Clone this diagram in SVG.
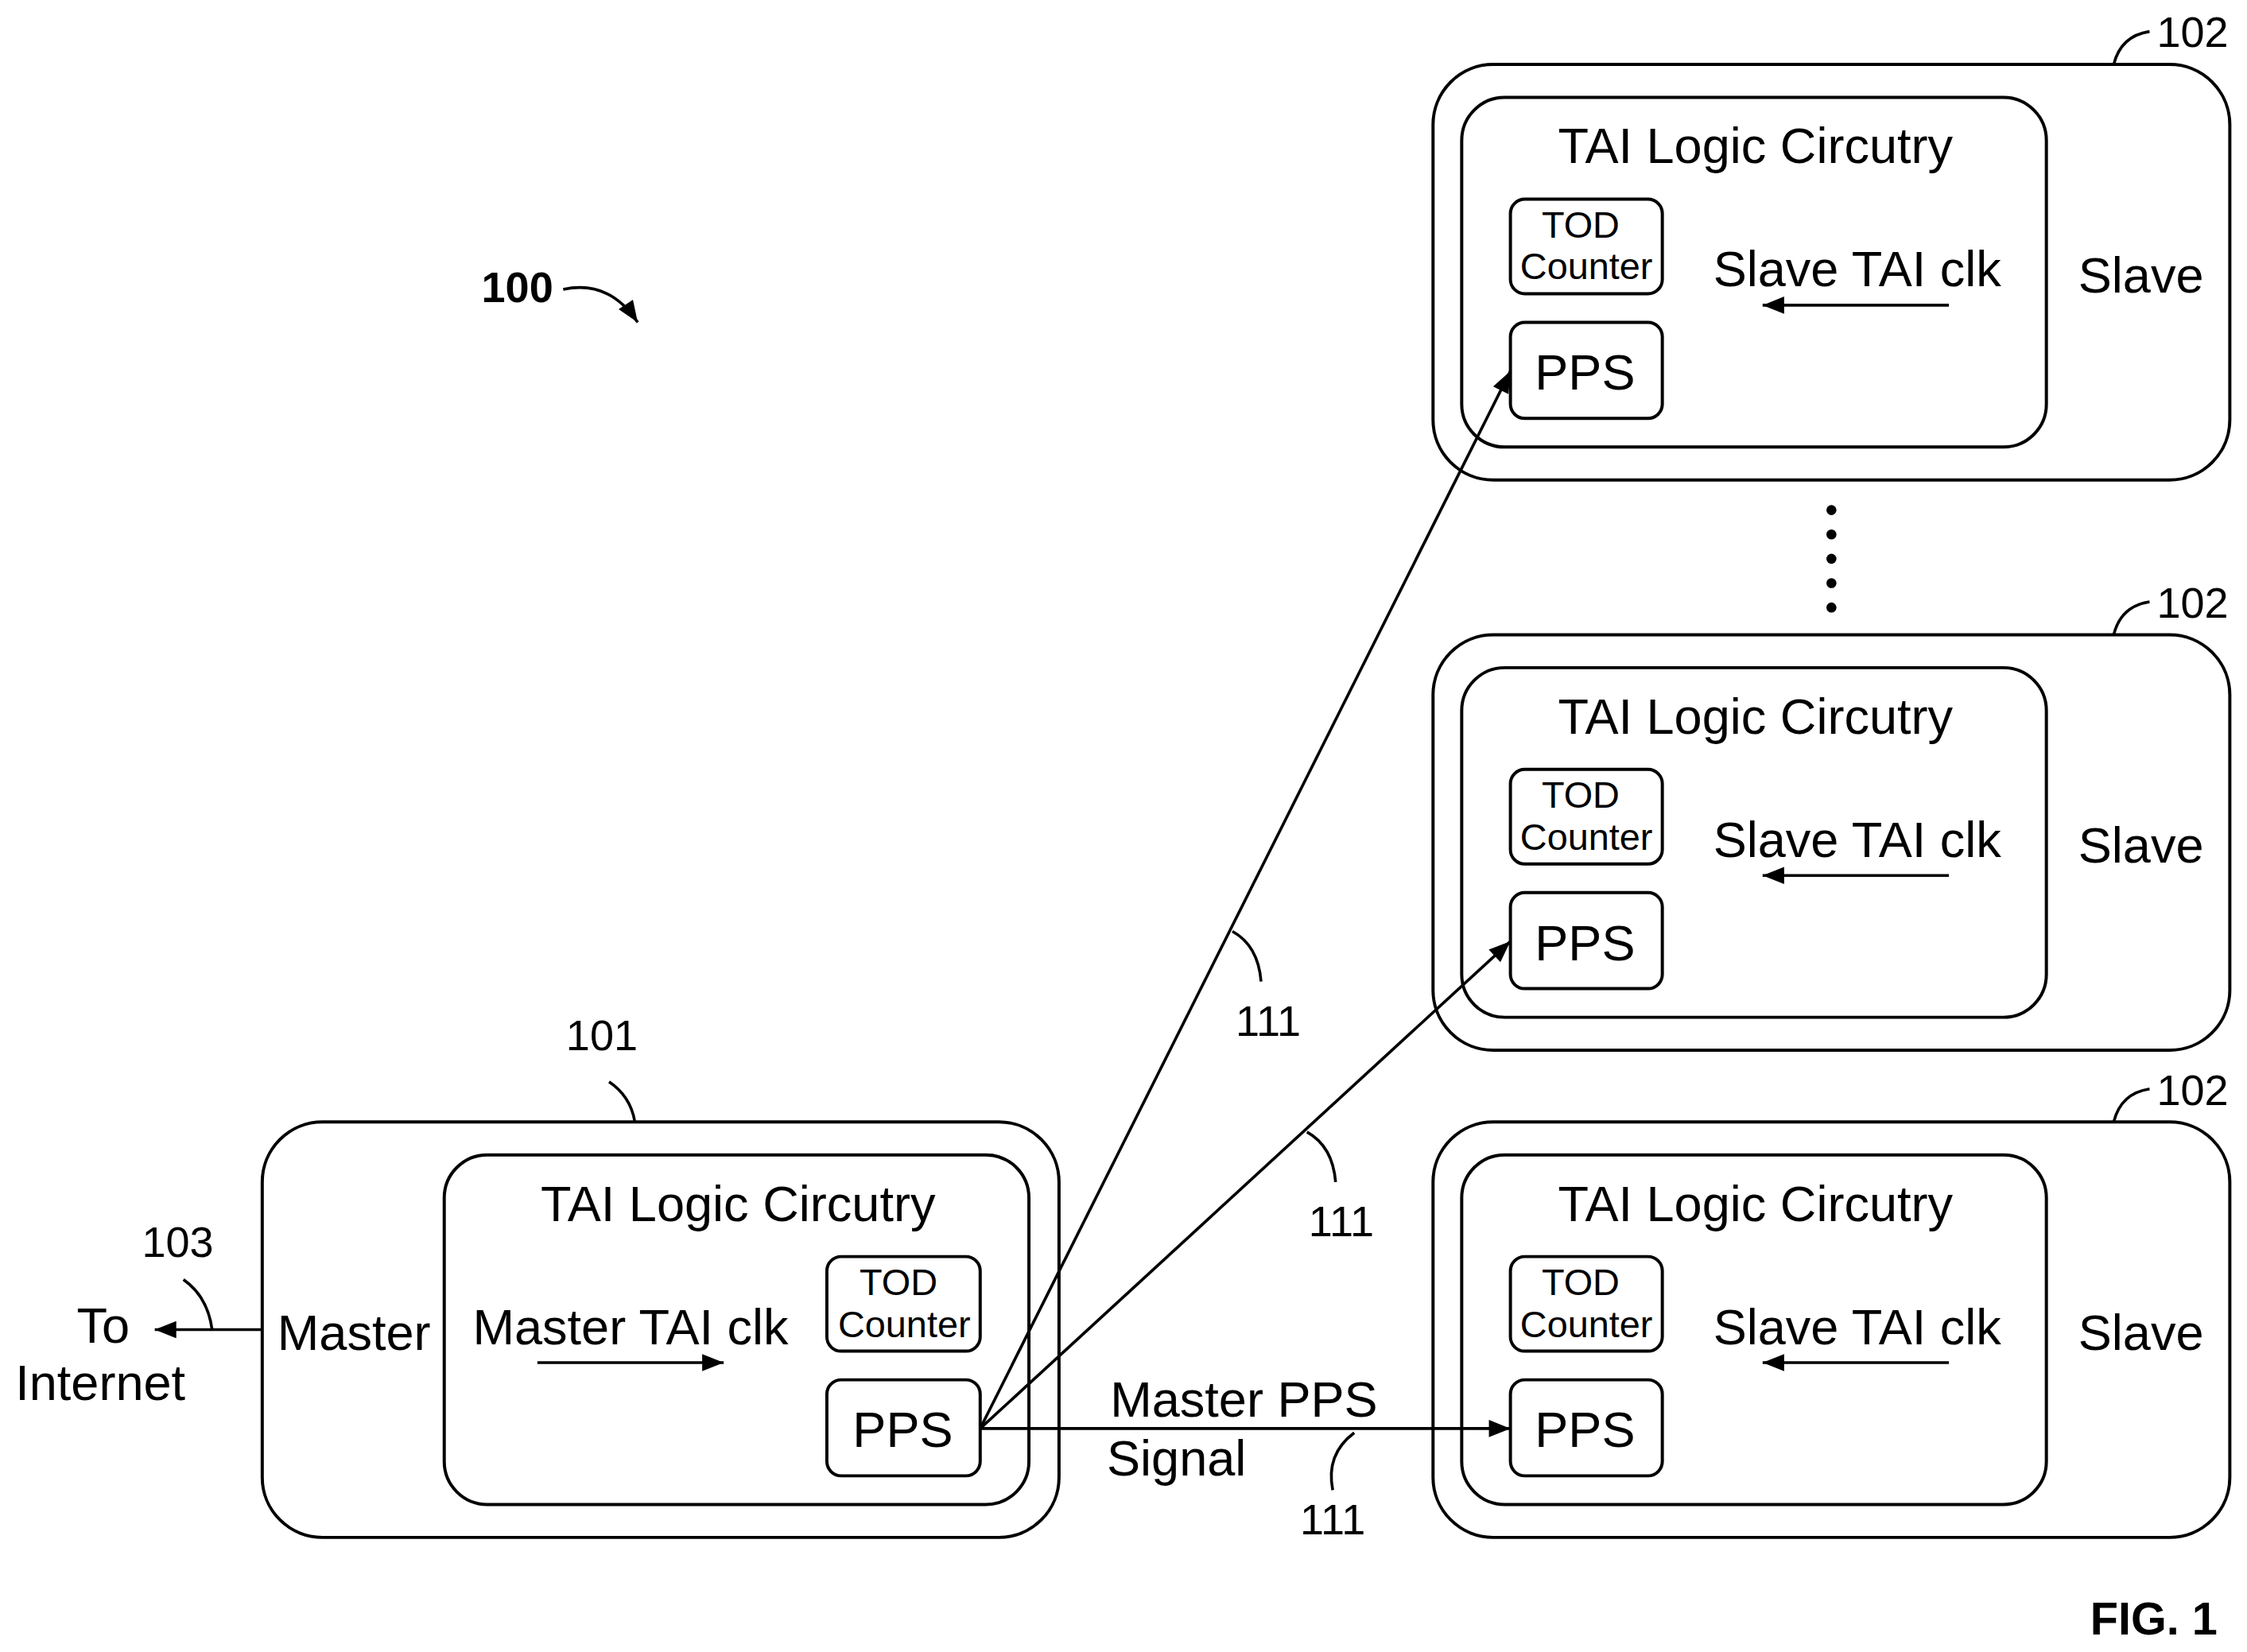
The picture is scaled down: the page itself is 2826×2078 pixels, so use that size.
<svg xmlns="http://www.w3.org/2000/svg" width="2826" height="2078" viewBox="0 0 2826 2078">
<style>
.b{fill:none;stroke:#000;stroke-width:2.2}
.l{fill:none;stroke:#000;stroke-width:2}
text{font-family:"Liberation Sans",Arial,sans-serif;fill:#000}
.t{font-size:35px;text-anchor:middle}
.s{font-size:26px;text-anchor:middle}
.n{font-size:30px;text-anchor:middle}
</style>
<defs>
<marker id="h" viewBox="0 0 10 8" refX="10" refY="4" markerWidth="16" markerHeight="12" orient="auto" markerUnits="userSpaceOnUse"><path d="M0,0L10,4L0,8z" fill="#000"/></marker>
<g id="slave"><rect class="b" x="1000" y="783" width="556" height="290" rx="42"/><rect class="b" x="1020" y="806" width="408" height="244" rx="30"/><text class="t" x="1225" y="852">TAI Logic Circutry</text><rect class="b" x="1054" y="877" width="106" height="66" rx="10"/><text class="s" x="1103" y="904">TOD</text><text class="s" x="1107" y="933">Counter</text><rect class="b" x="1054" y="963" width="106" height="67" rx="10"/><text class="t" x="1106" y="1010">PPS</text><text class="t" x="1296" y="938">Slave TAI clk</text><line class="l" x1="1360" y1="951" x2="1230" y2="951" marker-end="url(#h)"/><text class="t" x="1494" y="942">Slave</text><path class="l" d="M1475,783 Q1480,763 1500,760"/><text class="n" x="1530" y="771">102</text></g>
</defs>
<g transform="scale(1.8023)">
<g id="master"><rect class="b" x="183" y="783" width="556" height="290" rx="42"/><rect class="b" x="310" y="806" width="408" height="244" rx="30"/><text class="t" x="515" y="852">TAI Logic Circutry</text><text class="t" x="247" y="942">Master</text><text class="t" x="440" y="938">Master TAI clk</text><line class="l" x1="375" y1="951" x2="505" y2="951" marker-end="url(#h)"/><rect class="b" x="577" y="877" width="107" height="66" rx="10"/><text class="s" x="627" y="904">TOD</text><text class="s" x="631" y="933">Counter</text><rect class="b" x="577" y="963" width="107" height="67" rx="10"/><text class="t" x="630" y="1010">PPS</text><path class="l" d="M443,783 Q440,765 425,755"/><text class="n" x="420" y="733">101</text></g>
<g id="slave-bottom"><use href="#slave"/></g>
<g id="slave-middle"><use href="#slave" transform="translate(0,-340)"/></g>
<g id="slave-top"><use href="#slave" transform="translate(0,-738)"/></g>
<g id="connectors">
<line class="l" x1="684" y1="997" x2="1054" y2="997" marker-end="url(#h)"/>
<line class="l" x1="684" y1="997" x2="1054" y2="657" marker-end="url(#h)"/>
<line class="l" x1="684" y1="997" x2="1054" y2="259" marker-end="url(#h)"/>
<line class="l" x1="183" y1="928" x2="108" y2="928" marker-end="url(#h)"/>
<path class="l" d="M148,928 Q145,905 128,893"/>
<path class="l" d="M860,650 Q878,660 880,685"/>
<path class="l" d="M912,790 Q930,800 932,825"/>
<path class="l" d="M945,1000 Q925,1015 930,1040"/>
<path class="l" d="M393,202 Q425,195 445,225" marker-end="url(#h)"/>
</g>
<text class="n" x="124" y="877">103</text>
<text class="t" x="72" y="937">To</text>
<text class="t" x="70" y="977">Internet</text>
<text class="n" x="885" y="723">111</text>
<text class="n" x="936" y="863">111</text>
<text class="n" x="930" y="1071">111</text>
<text class="t" x="868" y="989">Master PPS</text>
<text class="t" x="821" y="1030">Signal</text>
<text x="361" y="211" style="font-size:30px;font-weight:bold;text-anchor:middle">100</text>
<text x="1503" y="1141" style="font-size:32px;font-weight:bold;text-anchor:middle">FIG. 1</text>
<g id="dots" fill="#000"><circle cx="1278" cy="356" r="3.5"/><circle cx="1278" cy="373" r="3.5"/><circle cx="1278" cy="390" r="3.5"/><circle cx="1278" cy="407" r="3.5"/><circle cx="1278" cy="424" r="3.5"/></g>
</g>
</svg>
